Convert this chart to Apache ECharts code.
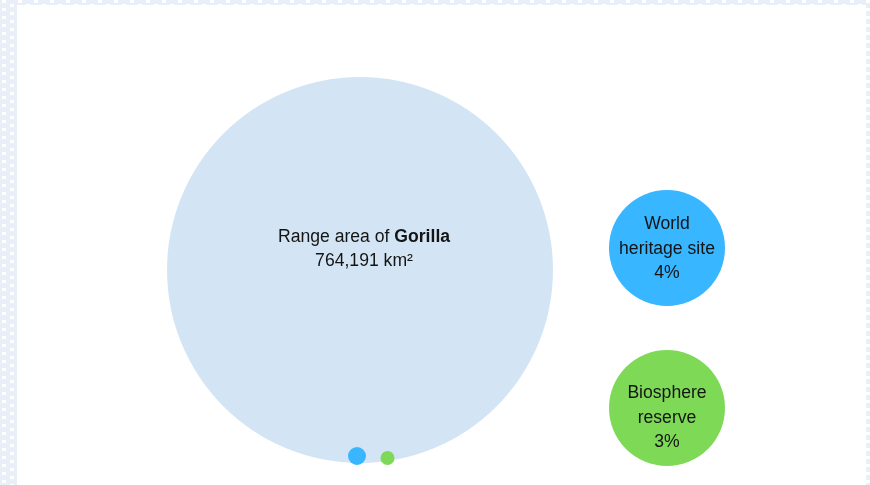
<!DOCTYPE html>
<html>
<head>
<meta charset="utf-8">
<script src="https://cdn.jsdelivr.net/npm/echarts@6/dist/echarts.min.js"></script>
<style>
html,body{margin:0;padding:0;width:870px;height:485px;overflow:hidden;}
body{
  background-color:#e9eff8;
  background-image:url("data:image/svg+xml;utf8,<svg xmlns='http://www.w3.org/2000/svg' width='16' height='8'><rect x='2' y='0' width='4' height='3' fill='white'/><rect x='10' y='4' width='4' height='3' fill='white'/></svg>");
  background-size:16px 8px;
}
#panel{position:absolute;left:17px;top:5px;width:849px;height:480px;background:#fff;}
#chart{position:absolute;left:0;top:0;width:870px;height:485px;}
</style>
</head>
<body>
<div id="panel"></div>
<div id="chart"></div>
<script>
// Data
const species = 'Gorilla';
const rangeArea = 764191;           // km²
const categoryLines = [['World', 'heritage site'], ['Biosphere', 'reserve']];
const shares = [4, 3];              // percent of range area
const colors = ['#38b6ff', '#7ed957'];

// Layout (pixel space of an invisible 870x485 axis system)
const bigPos = [360, 270], bigSize = 386;
const smallPos = [[357, 456], [387.5, 458]], smallSize = [18, 14];
const sidePos = [[667, 248], [667, 408]], sideSize = 116;
const sideLabelOffset = [[0, 1], [0, 10]];

const chart = echarts.init(document.getElementById('chart'));
const fontFamily = '"Liberation Sans", Arial, sans-serif';
const textColor = '#141414';
const fs = 17.6;

const series = [
  {
    type: 'scatter', silent: true, z: 1,
    symbol: 'circle', symbolSize: bigSize,
    itemStyle: { color: '#d3e5f4', opacity: 1 },
    label: {
      show: true, position: 'inside', offset: [4, -21],
      fontFamily, fontSize: fs, lineHeight: 24, color: textColor,
      formatter: () => 'Range area of {b|' + species + '}\n' + rangeArea.toLocaleString('en-US') + ' km²',
      rich: { b: { fontWeight: 'bold', fontSize: fs, fontFamily, color: textColor, lineHeight: 24 } }
    },
    data: [bigPos]
  },
  {
    type: 'scatter', silent: true, z: 2,
    symbol: 'circle',
    symbolSize: (v, p) => smallSize[p.dataIndex],
    itemStyle: { color: (p) => colors[p.dataIndex], opacity: 1 },
    data: smallPos
  },
  {
    type: 'scatter', silent: true, z: 2,
    symbol: 'circle', symbolSize: sideSize,
    itemStyle: { color: (p) => colors[p.dataIndex], opacity: 1 },
    label: {
      show: true, position: 'inside',
      fontFamily, fontSize: fs, lineHeight: 24.5, color: textColor,
      formatter: (p) => categoryLines[p.dataIndex].join('\n') + '\n' + shares[p.dataIndex] + '%'
    },
    data: sidePos.map((pos, i) => ({ value: pos, label: { offset: sideLabelOffset[i] } }))
  }
];

chart.setOption({
  animation: false,
  backgroundColor: 'transparent',
  grid: { left: 0, right: 0, top: 0, bottom: 0 },
  xAxis: { type: 'value', min: 0, max: 870, show: false },
  yAxis: { type: 'value', min: 0, max: 485, inverse: true, show: false },
  series
});
</script>
</body>
</html>
